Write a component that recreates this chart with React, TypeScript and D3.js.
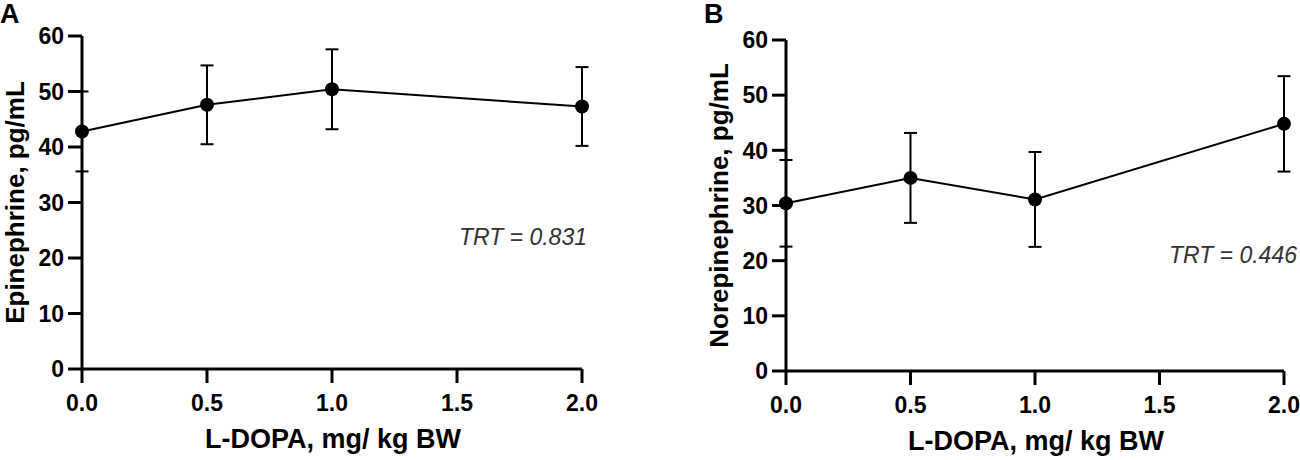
import React from "react";
import * as d3 from "d3";

// doses (mg/kg BW)
const doses = [0, 0.5, 1.0, 2.0];

const epiMean = [42.8, 47.6, 50.4, 47.3];
const epiSem = [7.2, 7.1, 7.2, 7.1];

const norepiMean = [30.4, 35.0, 31.1, 44.8];
const norepiSem = [7.85, 8.15, 8.6, 8.65];

const xTicks = [0, 0.5, 1.0, 1.5, 2.0];
const yTicks = [0, 10, 20, 30, 40, 50, 60];

const WIDTH = 1300;
const HEIGHT = 460;
const FONT = "'Liberation Sans', Arial, Helvetica, sans-serif";

type PanelProps = {
  letter: string;
  yTitle: string;
  trt: string;
  means: number[];
  sems: number[];
  left: number;
  right: number;
  top: number;
  bottom: number;
  trtY: number;
  trtX: number;
};

function Panel({ letter, yTitle, trt, means, sems, left, right, top, bottom, trtY, trtX }: PanelProps) {
  const x = d3.scaleLinear().domain([0, 2]).range([left, right]);
  const y = d3.scaleLinear().domain([0, 60]).range([bottom, top]);
  const tick = 14;
  const cap = 6.5;

  const line = d3
    .line<number>()
    .x((d, i) => x(doses[i]))
    .y((d) => y(d));

  return (
    <g>
      <text x={left - 82} y={23} fontFamily={FONT} fontWeight="bold" fontSize={27}>
        {letter}
      </text>

      {/* y axis */}
      <line x1={left} x2={left} y1={top} y2={bottom} stroke="#000" strokeWidth={3} />
      {yTicks.map((t) => (
        <g key={t}>
          <line x1={left - tick} x2={left} y1={y(t)} y2={y(t)} stroke="#000" strokeWidth={3} />
          <text
            x={left - tick - 4}
            y={y(t)}
            dy="0.36em"
            textAnchor="end"
            fontFamily={FONT}
            fontWeight="bold"
            fontSize={23}
          >
            {t}
          </text>
        </g>
      ))}

      {/* x axis */}
      <line x1={left} x2={right} y1={bottom} y2={bottom} stroke="#000" strokeWidth={3} />
      {xTicks.map((t) => (
        <g key={t}>
          <line x1={x(t)} x2={x(t)} y1={bottom} y2={bottom + tick} stroke="#000" strokeWidth={3} />
          <text
            x={x(t)}
            y={bottom + 42}
            textAnchor="middle"
            fontFamily={FONT}
            fontWeight="bold"
            fontSize={23}
          >
            {t.toFixed(1)}
          </text>
        </g>
      ))}

      <text
        x={(left + right) / 2 + 1}
        y={bottom + 79}
        textAnchor="middle"
        fontFamily={FONT}
        fontWeight="bold"
        fontSize={27}
      >
        L-DOPA, mg/ kg BW
      </text>
      <text
        transform={`translate(${left - 58}, ${(top + bottom) / 2}) rotate(-90)`}
        textAnchor="middle"
        fontFamily={FONT}
        fontWeight="bold"
        fontSize={26}
      >
        {yTitle}
      </text>

      {/* error bars */}
      {means.map((m, i) => {
        const cx = x(doses[i]);
        const hi = y(m + sems[i]);
        const lo = y(m - sems[i]);
        return (
          <g key={i} stroke="#000" strokeWidth={2}>
            <line x1={cx} x2={cx} y1={hi} y2={lo} />
            <line x1={cx - cap} x2={cx + cap} y1={hi} y2={hi} />
            <line x1={cx - cap} x2={cx + cap} y1={lo} y2={lo} />
          </g>
        );
      })}

      <path d={line(means) ?? ""} fill="none" stroke="#000" strokeWidth={2} />
      {means.map((m, i) => (
        <circle key={i} cx={x(doses[i])} cy={y(m)} r={7} fill="#000" />
      ))}

      <text
        x={trtX}
        y={trtY}
        textAnchor="end"
        fontFamily={FONT}
        fontStyle="italic"
        fontSize={23}
        fill="#333"
      >
        {trt}
      </text>
    </g>
  );
}

export default function App() {
  return (
    <svg
      width={WIDTH}
      height={HEIGHT}
      style={{ position: "absolute", left: 0, top: 0, background: "#fff" }}
    >
      <Panel
        letter="A"
        yTitle="Epinephrine, pg/mL"
        trt="TRT = 0.831"
        means={epiMean}
        sems={epiSem}
        left={82}
        right={582}
        top={36}
        bottom={369}
        trtX={587}
        trtY={245}
      />
      <Panel
        letter="B"
        yTitle="Norepinephrine, pg/mL"
        trt="TRT = 0.446"
        means={norepiMean}
        sems={norepiSem}
        left={786}
        right={1284}
        top={40}
        bottom={371}
        trtX={1297}
        trtY={263}
      />
    </svg>
  );
}
